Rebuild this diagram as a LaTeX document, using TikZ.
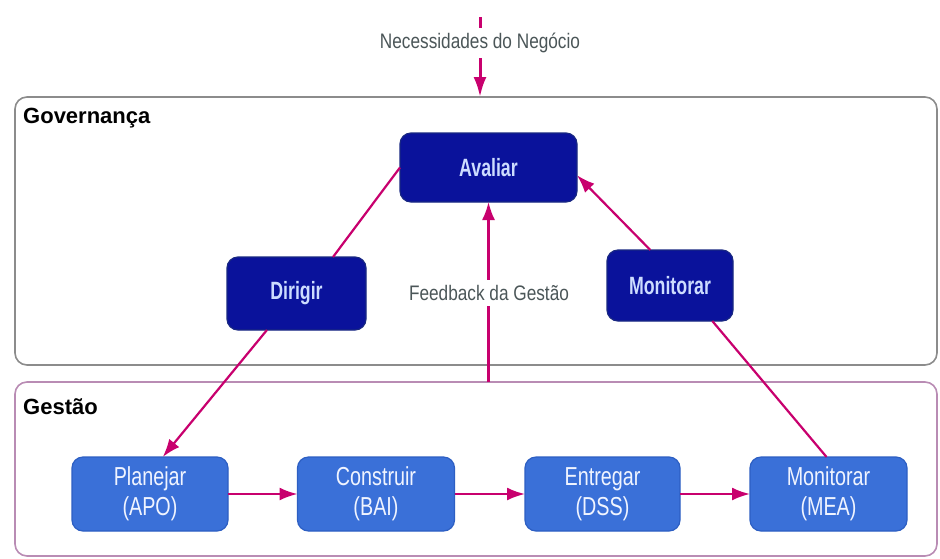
\documentclass[tikz,border=0pt]{standalone}
\usepackage{fontspec}
\setmainfont{Liberation Sans}
\newfontfamily\govfont[FakeStretch=0.71]{Liberation Sans Bold}
\newfontfamily\mgmtfont[FakeStretch=0.76]{Liberation Sans}
\newfontfamily\narrowfont[FakeStretch=0.82]{Liberation Sans}
\usetikzlibrary{arrows.meta}

\definecolor{linkcol}{RGB}{200,0,110}
\definecolor{govfill}{RGB}{10,18,155}
\definecolor{govdraw}{RGB}{25,40,130}
\definecolor{govtext}{RGB}{205,220,255}
\definecolor{mgmtfill}{RGB}{58,112,216}
\definecolor{mgmtdraw}{RGB}{45,95,195}
\definecolor{mgmttext}{RGB}{240,244,255}
\definecolor{boxgray}{RGB}{140,140,140}
\definecolor{boxmauve}{RGB}{185,140,180}
\definecolor{labelgray}{RGB}{75,86,88}

\tikzset{
  layerbox/.style={draw, line width=1.6pt, rounded corners=12pt, inner sep=0pt, outer sep=0pt},
  layertitle/.style={anchor=west, font=\fontsize{22}{24}\selectfont\bfseries, text=black, inner sep=0pt},
  govbox/.style={draw=govdraw, fill=govfill, line width=1.2pt, rounded corners=11pt,
    inner sep=0pt, outer sep=0pt, text=govtext, align=center,
    font=\govfont\fontsize{25}{29}\selectfont},
  mgmtbox/.style={draw=mgmtdraw, fill=mgmtfill, line width=1.2pt, rounded corners=11pt,
    inner sep=0pt, outer sep=0pt, text=mgmttext, align=center,
    font=\mgmtfont\fontsize{26}{30}\selectfont},
  plainlabel/.style={fill=white, text=labelgray, inner xsep=3pt, inner ysep=5pt,
    font=\narrowfont\fontsize{21}{24}\selectfont},
  link/.style={draw=linkcol, line width=2.2pt},
  linkarrow/.style={link, -{Latex[length=18pt,width=13pt]}},
}

\begin{document}
\begin{tikzpicture}[x=1pt,y=-1pt]
\useasboundingbox (0,0) rectangle (940,558);
\fill[white] (0,0) rectangle (940,558);

% the two layers
\node[layerbox, draw=boxgray, minimum width=922pt, minimum height=268pt] (gov) at (476,231) {};
\node[layerbox, draw=boxmauve, minimum width=922pt, minimum height=174pt] (gest) at (476,469) {};
\node[layertitle] (govtitle) at (23,118) {Governança};
\node[layertitle] (gesttitle) at (23,407) {Gestão};

% governance processes
\node[govbox, minimum width=177pt, minimum height=69pt] (avaliar) at (488.5,167.5) {Avaliar};
\node[govbox, minimum width=139pt, minimum height=73pt] (dirigir) at (296.5,293.5) {Dirigir};
\node[govbox, minimum width=126pt, minimum height=71pt] (monit) at (670,285.5) {Monitorar};

% management processes
\node[mgmtbox, minimum width=156pt, minimum height=74pt] (apo) at (150,494) {Planejar\\(APO)};
\node[mgmtbox, minimum width=157pt, minimum height=74pt] (bai) at (376,494) {Construir\\(BAI)};
\node[mgmtbox, minimum width=155pt, minimum height=74pt] (dss) at (602.5,494) {Entregar\\(DSS)};
\node[mgmtbox, minimum width=157pt, minimum height=74pt] (mea) at (828.5,494) {Monitorar\\(MEA)};

% business needs entering the governance layer
\coordinate (src) at (480,17);
\node[plainlabel] (need) at (480,43) {Necessidades do Negócio};
\draw[link, line width=3pt] (src) -- (need.north);
\draw[link, line width=3pt, -{Latex[length=20pt,width=13pt]}] (need.south) -- (gov.north -| src);

% evaluate - direct - monitor cycle
\draw[link] (avaliar.west) -- (dirigir.45);
\draw[linkarrow] (dirigir.231) -- (apo.71);
\draw[link] (mea.93) -- (monit.-40);
\draw[linkarrow] (monit.119) -- (avaliar.-5);

% management feedback
\draw[linkarrow] (gest.north -| avaliar.south) -- (avaliar.south);
\node[plainlabel] (fb) at (489,293) {Feedback da Gestão};

% management chain
\draw[linkarrow] (apo) -- (bai);
\draw[linkarrow] (bai) -- (dss);
\draw[linkarrow] (dss) -- (mea);
\end{tikzpicture}
\end{document}
